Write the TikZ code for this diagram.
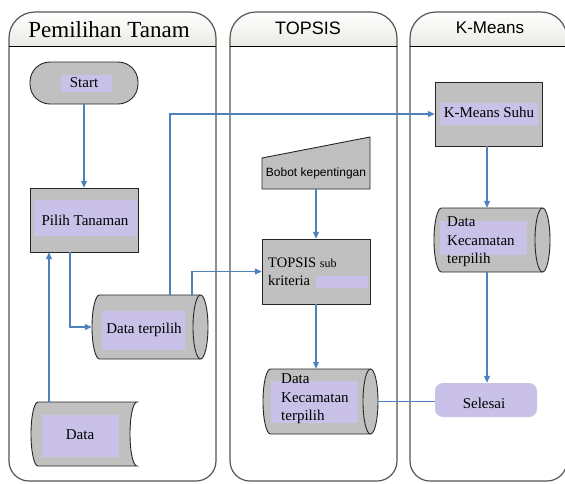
\documentclass[tikz,border=0pt]{standalone}
\usepackage{fontspec}
\setmainfont{Liberation Serif}
\setsansfont{Liberation Sans}
\usetikzlibrary{arrows.meta,calc,fit}
\definecolor{shpgray}{RGB}{192,192,192}
\definecolor{lav}{RGB}{201,193,232}
\definecolor{arrblue}{RGB}{79,129,189}
\definecolor{lanegray}{RGB}{85,85,85}
\definecolor{hdrbot}{RGB}{234,234,228}
\newcommand\lanebox[2]{%
  \path[top color=white,bottom color=hdrbot] (#1,46) -- (#1,38) arc[start angle=180,end angle=270,radius=26] -- ({#2-26},12) arc[start angle=270,end angle=360,radius=26] -- (#2,46) -- cycle;
  \draw[lane] (#1,46) -- (#1,38) arc[start angle=180,end angle=270,radius=26] -- ({#2-26},12) arc[start angle=270,end angle=360,radius=26] -- (#2,46);
  \draw[lane] (#1,46) -- (#1,461) arc[start angle=180,end angle=90,radius=20] -- ({#2-20},481) arc[start angle=90,end angle=0,radius=20] -- (#2,46);
  \draw[hdrline] (#1,46) -- (#2,46);
}
\newcommand\hcyl[4]{% x0 y0 x1 y1
  \filldraw[shp] ({#1+7.5},#2) -- ({#3-7.5},#2) arc[start angle=-90,end angle=90,x radius=7.5,y radius={(#4-#2)/2}] -- ({#1+7.5},#4) arc[start angle=90,end angle=270,x radius=7.5,y radius={(#4-#2)/2}] -- cycle;
  \draw[shp,fill=none] ({#3-7.5},#4) arc[start angle=90,end angle=270,x radius=7.5,y radius={(#4-#2)/2}];
}
\begin{document}
\begin{tikzpicture}[x=1pt,y=-1pt,
  lane/.style={draw=lanegray,line width=1.2pt},
  hdrline/.style={draw=black,line width=1pt},
  shp/.style={draw=black!85,fill=shpgray,line width=0.9pt},
  anch/.style={draw=none,inner sep=0pt,rectangle},
  hl/.style={fill=lav,draw=none},
  txt/.style={font=\fontsize{15}{18.5}\selectfont,inner sep=0pt},
  arr/.style={draw=arrblue,line width=1.1pt,-{Triangle[length=7pt,width=6pt]}},
  link/.style={draw=arrblue,line width=1.1pt},
]
\useasboundingbox (0,0) rectangle (565,483);

% lanes
\lanebox{9}{216}
\lanebox{230}{397}
\lanebox{410}{567}
\node[font=\fontsize{23}{25}\selectfont,inner sep=0pt] (h1) at (109,30) {Pemilihan Tanam};
\node[font=\sffamily\fontsize{18}{20}\selectfont,inner sep=0pt] (h2) at (308,28) {TOPSIS};
\node[font=\sffamily\fontsize{17}{19}\selectfont,inner sep=0pt] (h3) at (490,28) {K-Means};

% shapes
\filldraw[shp,rounded corners=20pt] (30,62) rectangle (138,104);
\filldraw[shp] (30,188) rectangle (138,252);
\hcyl{92}{295}{208}{359}
\filldraw[shp] (38,402) -- (137,402) arc[start angle=270,end angle=90,x radius=7,y radius=32] -- (38,466) arc[start angle=90,end angle=270,x radius=7,y radius=32] -- cycle;
\filldraw[shp] (262,158) -- (370,137) -- (370,189) -- (262,189) -- cycle;
\filldraw[shp] (262,239) rectangle (370,304);
\hcyl{263}{369}{378}{434}
\filldraw[shp] (435,82) rectangle (542,146);
\hcyl{434}{208}{550}{272}
\fill[lav,rounded corners=8pt] (435,383) rectangle (537,417);

% anchor boxes
\node[anch,fit={(30,62) (138,104)}] (start) {};
\node[anch,fit={(30,188) (138,252)}] (pilih) {};
\node[anch,fit={(92,295) (208,359)}] (dt) {};
\node[anch,fit={(31,402) (137,466)}] (data) {};
\node[anch,fit={(262,137) (370,189)}] (bobot) {};
\node[anch,fit={(262,239) (370,304)}] (topsis) {};
\node[anch,fit={(263,369) (378,434)}] (dk2) {};
\node[anch,fit={(435,82) (542,146)}] (km) {};
\node[anch,fit={(434,208) (550,272)}] (dk3) {};
\node[anch,fit={(435,383) (537,417)}] (sel) {};

% highlights
\fill[hl] (61,75) rectangle (112,92);
\fill[hl] (34,200) rectangle (137,236);
\fill[hl] (102,311) rectangle (185,350);
\fill[hl] (42,415) rectangle (119,457);
\fill[hl] (316,276) rectangle (368,288);
\fill[hl] (271,381) rectangle (358,423);
\fill[hl] (440,221) rectangle (527,255);
\fill[hl] (440,103) rectangle (538,125);

% texts
\node[txt] (tstart) at (84,83) {Start};
\node[txt] (tpilih) at (85,220) {Pilih Tanaman};
\node[txt] (tdt) at (144,330) {Data terpilih};
\node[txt] (tdata) at (80,435) {Data};
\node[font=\sffamily\fontsize{12}{14}\selectfont,inner sep=0pt] (tbobot) at (316,173) {Bobot kepentingan};
\node[font=\fontsize{14.5}{18}\selectfont,inner sep=0pt,anchor=west,align=left] (ttopsis) at (268,272) {TOPSIS {\fontsize{12}{14}\selectfont sub}\\kriteria};
\node[txt,anchor=west,align=left] (tdk2) at (281,399) {Data\\Kecamatan\\terpilih};
\node[txt] (tkm) at (489,112) {K-Means Suhu};
\node[txt,anchor=west,align=left] (tdk3) at (447,242) {Data\\Kecamatan\\terpilih};
\node[txt] (tsel) at (484,403) {Selesai};

% connectors
\draw[arr] (start.south) -- (pilih.north);
\draw[arr] ([xshift=-35pt]data.north) -- ([xshift=-35pt]data.north |- pilih.south);
\draw[arr] ([xshift=-14pt]pilih.south) |- (dt.west);
\draw[arr] ([xshift=20pt]dt.north) |- (km.west);
\draw[arr] ([xshift=42pt]dt.north) |- (topsis.west);
\draw[arr] (bobot.south) -- (topsis.north);
\draw[arr] (topsis.south) -- (topsis.south |- dk2.north);
\draw[arr] ([xshift=-1.5pt]km.south) -- ([xshift=-1.5pt]km.south |- dk3.north);
\draw[arr] ([xshift=-1.5pt]km.south |- dk3.south) -- ([xshift=-1.5pt]km.south |- sel.north);
\draw[link] (dk2.east) -- (dk2.east -| sel.west);
\end{tikzpicture}
\end{document}
